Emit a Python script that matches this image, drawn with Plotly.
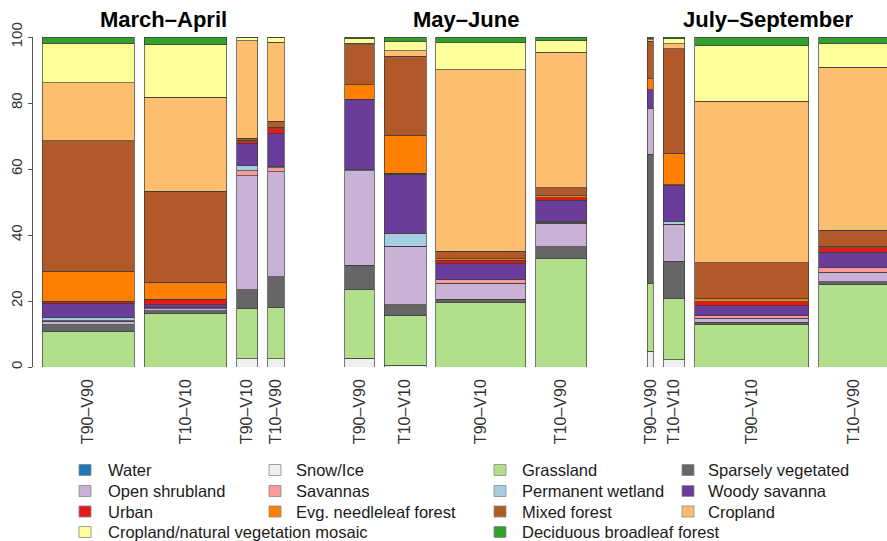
import plotly.graph_objects as go

# ---------------- data ----------------
periods = ["March–April", "May–June", "July–September"]
bar_labels = ["T90–V90", "T10–V10", "T90–V10", "T10–V90"]

# relative bar widths (share of samples) per period, in bar_labels order
widths_mar_apr = [43.3, 39.0, 10.0, 7.7]
widths_may_jun = [13.9, 19.7, 42.4, 24.0]
widths_jul_sep = [2.8, 10.2, 53.8, 33.2]

classes = ["Water", "Snow/Ice", "Grassland", "Sparsely vegetated",
           "Open shrubland", "Savannas", "Permanent wetland", "Woody savanna",
           "Urban", "Evg. needleleaf forest", "Mixed forest", "Cropland",
           "Cropland/natural vegetation mosaic", "Deciduous broadleaf forest"]

# percentages, bar order: Mar-Apr x4, May-Jun x4, Jul-Sep x4
water     = [0, 0, 0, 0,   0, 0, 0, 0,   0, 0, 0, 0]
snow_ice  = [0, 0, 2.5, 2.5,   2.7, 0.6, 0, 0,   4.8, 2.2, 0, 0]
grassland = [10.9, 16.1, 15.1, 15.6,   20.7, 15.0, 19.5, 32.8,   20.6, 18.6, 12.9, 25.0]
sparsely  = [1.9, 1.0, 5.8, 9.3,   7.4, 3.3, 1.0, 3.7,   39.0, 11.3, 0.7, 0.9]
open_shrub = [1.0, 0.5, 34.6, 31.8,   28.6, 17.7, 4.9, 7.1,   13.8, 11.1, 1.2, 2.8]
savannas  = [0.2, 0.1, 1.5, 1.2,   0, 0, 1.0, 0.3,   0, 0, 0.8, 1.4]
wetland   = [0.9, 0.2, 1.5, 0.4,   0.6, 3.8, 0, 0.3,   0, 1.0, 0, 0]
woody_sav = [4.4, 1.0, 6.7, 9.9,   21.1, 18.0, 4.9, 6.3,   5.8, 10.8, 3.0, 4.7]
urban     = [0.7, 1.6, 0.5, 1.5,   0, 0.3, 1.0, 0.8,   0, 0.2, 1.2, 1.3]
evg_needle = [9.0, 5.2, 0.5, 0.5,   4.4, 11.5, 0.5, 0.6,   3.3, 9.6, 1.0, 0.5]
mixed     = [39.6, 27.5, 0.6, 1.8,   12.1, 23.9, 2.3, 2.4,   11.4, 31.6, 10.8, 4.8]
cropland  = [17.5, 28.6, 29.5, 23.9,   0.5, 1.8, 55.0, 41.1,   0.5, 1.5, 48.9, 49.5]
mosaic    = [12.0, 15.8, 0.9, 1.3,   1.5, 2.8, 8.1, 3.5,   0.4, 1.5, 16.9, 7.2]
deciduous = [1.9, 2.4, 0.3, 0.3,   0.4, 1.3, 1.8, 1.1,   0.4, 0.6, 2.6, 1.9]

series = [water, snow_ice, grassland, sparsely, open_shrub, savannas, wetland,
          woody_sav, urban, evg_needle, mixed, cropland, mosaic, deciduous]

# ---------------- styles ----------------
colors = ["#1F78B4", "#EFEFEF", "#B2DF8A", "#666666", "#CAB2D6", "#FB9A99",
          "#A6CEE3", "#6A3D9A", "#E31A1C", "#FF7F00", "#B15928", "#FDBF6F",
          "#FFFF99", "#33A02C"]

FONT = "Liberation Sans, Arial, Helvetica, sans-serif"
GAP = 4.7          # space between bars (x units)
PANEL_GAP = 28.6   # space between periods (x units)

# ---------------- geometry from widths ----------------
all_widths, centers, tick_text, panel_centers = [], [], [], []
pos = 0.0
for p, ws in enumerate([widths_mar_apr, widths_may_jun, widths_jul_sep]):
    start = pos
    for i, w in enumerate(ws):
        centers.append(pos + w / 2)
        all_widths.append(w)
        tick_text.append(bar_labels[i])
        pos += w
        if i < len(ws) - 1:
            pos += GAP
    panel_centers.append((start + pos) / 2)
    pos += PANEL_GAP

fig = go.Figure()
for name, vals, col in zip(classes, series, colors):
    fig.add_trace(go.Bar(
        x=centers, y=vals, width=all_widths, name=name,
        marker=dict(color=col, line=dict(color="#3a3a3a", width=0.7)),
        showlegend=False, hoverinfo="name+y"))

# period titles
for name, cx in zip(periods, panel_centers):
    fig.add_annotation(x=cx, y=1.054, xref="x", yref="paper", text=name,
                       showarrow=False, xanchor="center", yanchor="middle",
                       font=dict(family=FONT, size=22, color="black", weight="bold"))

# legend (4 columns, row-wise in stacking order)
PLOT_L, PLOT_W, PLOT_B, PLOT_H = 33, 854, 367, 330
def px_x(v):
    return (v - PLOT_L) / PLOT_W
def px_y(v):
    return (PLOT_B - v) / PLOT_H

col_sq = [85, 275, 500, 688]
col_tx = [106, 294, 520, 706]
row_y = [470, 491, 511.5, 532]
slots = list(range(13)) + [14]   # slot 13 left empty (long label overflows)
for k, (name, col) in enumerate(zip(classes, colors)):
    r, c = divmod(slots[k], 4)
    sx, tx, cy = col_sq[c], col_tx[c], row_y[r]
    fig.add_shape(type="rect", xref="paper", yref="paper",
                  x0=px_x(sx - 6), x1=px_x(sx + 6),
                  y0=px_y(cy + 5.5), y1=px_y(cy - 5.5),
                  fillcolor=col, line=dict(color="#888888", width=0.8))
    fig.add_annotation(x=px_x(tx), y=px_y(cy), xref="paper", yref="paper",
                       text=name, showarrow=False, xanchor="left", yanchor="middle",
                       font=dict(family=FONT, size=16.5, color="#1a1a1a"))

x_min = -9.3 / 2.12
x_max = x_min + PLOT_W / 2.12

fig.update_layout(
    barmode="stack",
    width=887, height=541,
    margin=dict(l=PLOT_L, r=0, t=37, b=541 - PLOT_B),
    paper_bgcolor="white", plot_bgcolor="white",
    showlegend=False,
    font=dict(family=FONT, size=15, color="#333333"),
    xaxis=dict(range=[x_min, x_max], tickmode="array", tickvals=centers,
               ticktext=tick_text, tickangle=-90, showgrid=False,
               zeroline=False, showline=False, ticks="",
               ticklabelstandoff=8, automargin=False,
               tickfont=dict(family=FONT, size=16, color="#333333")),
    yaxis=dict(range=[0, 100], tickmode="array", tickvals=[0, 20, 40, 60, 80, 100],
               tickangle=-90, showgrid=False, zeroline=False, showline=True,
               linecolor="#555555", linewidth=1, ticks="outside", ticklen=4,
               tickcolor="#555555", automargin=False,
               tickfont=dict(family=FONT, size=15, color="#333333")),
)

fig.write_html("out.html",
               config={"displayModeBar": False},
               post_script="document.body.style.margin='0';"
                           "document.body.style.overflow='hidden';")
